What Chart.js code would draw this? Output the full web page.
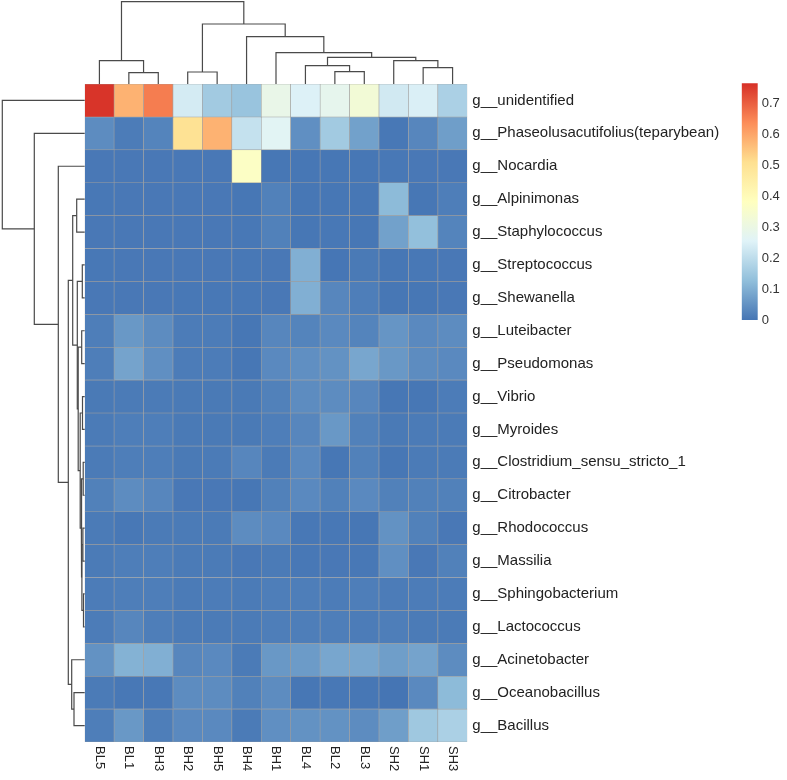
<!DOCTYPE html>
<html>
<head>
<meta charset="utf-8">
<script src="https://cdn.jsdelivr.net/npm/chart.js"></script>
<style>
  body { margin: 0; background: #fff; }
  #wrap { position: relative; width: 787px; height: 780px; overflow: hidden; }
  canvas { position: absolute; }
</style>
</head>
<body>
<div id="wrap">
  <canvas id="heat" width="787" height="780" style="left:0;top:0"></canvas>
  <canvas id="colTree" width="384" height="86" style="left:84px;top:0"></canvas>
  <canvas id="rowTree" width="87" height="662" style="left:0;top:82px"></canvas>
  <canvas id="legend" width="47" height="262" style="left:740px;top:70px"></canvas>
</div>
<script>
// ---------------- data ----------------
const sampleLabels = ["BL5", "BL1", "BH3", "BH2", "BH5", "BH4", "BH1", "BL4", "BL2", "BL3", "SH2", "SH1", "SH3"];

const genusLabels = [
  "g__unidentified", "g__Phaseolusacutifolius(teparybean)", "g__Nocardia", "g__Alpinimonas",
  "g__Staphylococcus", "g__Streptococcus", "g__Shewanella", "g__Luteibacter", "g__Pseudomonas",
  "g__Vibrio", "g__Myroides", "g__Clostridium_sensu_stricto_1", "g__Citrobacter", "g__Rhodococcus",
  "g__Massilia", "g__Sphingobacterium", "g__Lactococcus", "g__Acinetobacter", "g__Oceanobacillus",
  "g__Bacillus"
];

// relative abundance, one row per genus, columns in sampleLabels order
const abundance = [
  [0.76, 0.58, 0.66, 0.235, 0.155, 0.14, 0.29, 0.25, 0.28, 0.33, 0.23, 0.245, 0.17],
  [0.04, 0.012, 0.025, 0.50, 0.58, 0.21, 0.265, 0.045, 0.155, 0.075, 0.005, 0.03, 0.07],
  [0.006, 0.006, 0.006, 0.006, 0.006, 0.37, 0.004, 0.003, 0.004, 0.004, 0.005, 0.006, 0.006],
  [0.005, 0.006, 0.006, 0.006, 0.006, 0.004, 0.02, 0.004, 0.003, 0.003, 0.12, 0.004, 0.015],
  [0.006, 0.006, 0.006, 0.006, 0.006, 0.005, 0.02, 0.004, 0.005, 0.004, 0.075, 0.13, 0.025],
  [0.005, 0.006, 0.006, 0.006, 0.006, 0.005, 0.006, 0.1, 0.002, 0.008, 0.004, 0.005, 0.006],
  [0.006, 0.006, 0.006, 0.005, 0.005, 0.005, 0.006, 0.1, 0.03, 0.015, 0.003, 0.004, 0.006],
  [0.015, 0.06, 0.04, 0.012, 0.012, 0.004, 0.03, 0.025, 0.035, 0.025, 0.055, 0.035, 0.04],
  [0.015, 0.08, 0.045, 0.012, 0.012, 0.004, 0.035, 0.045, 0.05, 0.085, 0.06, 0.04, 0.035],
  [0.008, 0.01, 0.01, 0.008, 0.008, 0.008, 0.02, 0.04, 0.04, 0.03, 0.004, 0.004, 0.012],
  [0.01, 0.015, 0.015, 0.008, 0.008, 0.008, 0.015, 0.03, 0.06, 0.02, 0.008, 0.01, 0.01],
  [0.01, 0.015, 0.015, 0.008, 0.01, 0.03, 0.01, 0.035, 0.004, 0.02, 0.004, 0.01, 0.01],
  [0.02, 0.04, 0.03, 0.006, 0.006, 0.003, 0.02, 0.035, 0.02, 0.035, 0.02, 0.02, 0.02],
  [0.01, 0.005, 0.01, 0.01, 0.01, 0.04, 0.035, 0.005, 0.005, 0.003, 0.05, 0.02, 0.006],
  [0.01, 0.015, 0.015, 0.01, 0.01, 0.006, 0.01, 0.005, 0.006, 0.005, 0.045, 0.006, 0.02],
  [0.012, 0.015, 0.015, 0.01, 0.012, 0.01, 0.015, 0.015, 0.012, 0.015, 0.012, 0.012, 0.012],
  [0.012, 0.03, 0.015, 0.01, 0.01, 0.01, 0.015, 0.015, 0.015, 0.012, 0.015, 0.01, 0.01],
  [0.05, 0.105, 0.1, 0.03, 0.035, 0.01, 0.06, 0.065, 0.085, 0.085, 0.07, 0.08, 0.04],
  [0.01, 0.005, 0.005, 0.04, 0.04, 0.02, 0.04, 0.003, 0.005, 0.003, 0.0, 0.035, 0.12],
  [0.015, 0.06, 0.015, 0.035, 0.035, 0.01, 0.045, 0.05, 0.05, 0.04, 0.07, 0.15, 0.17]
];

// clustering trees, hclust style: negative = leaf (-(index+1)), positive = earlier merge (1-based)
const colMerge = [[-2, -3], [-1, 1], [-4, -5], [-9, -10], [-8, 4], [-12, -13], [-11, 6], [5, 7], [-7, 8], [-6, 9], [3, 10], [2, 11]];
const colHeight = [11.3, 23.3, 12, 12.3, 18.3, 16.3, 23.3, 26.7, 31.3, 47.3, 60, 82.3];

const rowMerge = [[-6, -7], [-4, -5], [-8, -9], [-10, -11], [-12, -13], [-14, -15], [-16, -17], [6, 7], [5, 8], [4, 9],
  [3, 10], [1, 11], [2, 12], [-19, -20], [-18, 14], [13, 15], [-3, 16], [-2, 17], [-1, 18]];
const rowHeight = [2.4, 8, 3, 2.2, 1.5, 1.8, 1.2, 2.8, 3.5, 4.5, 6.5, 7.4, 12, 10.7, 13, 16.4, 26.4, 50.4, 82.4];

const scaleMax = 0.765;
const paletteStops = ["#4575B4", "#91BFDB", "#E0F3F8", "#FFFFBF", "#FEE090", "#FC8D59", "#D73027"];

// ---------------- helpers ----------------
Chart.defaults.font.family = '"Liberation Sans", Arial, sans-serif';

function hexToRgb(h) {
  return [parseInt(h.slice(1, 3), 16), parseInt(h.slice(3, 5), 16), parseInt(h.slice(5, 7), 16)];
}

function colorFor(v) {
  const t = Math.max(0, Math.min(1, v / scaleMax)) * (paletteStops.length - 1);
  const i = Math.min(Math.floor(t), paletteStops.length - 2);
  const f = t - i;
  const a = hexToRgb(paletteStops[i]), b = hexToRgb(paletteStops[i + 1]);
  const c = a.map((x, k) => Math.round(x + (b[k] - x) * f));
  return `rgb(${c[0]},${c[1]},${c[2]})`;
}

// build U-shaped segments of a dendrogram: [pos, height] pairs
function treeSegments(merge, height) {
  const pos = [], hgt = [], segs = [];
  const node = (k) => (k < 0 ? [-k - 1 + 0.5, 0] : [pos[k - 1], hgt[k - 1]]);
  merge.forEach(([a, b], i) => {
    const [pa, ha] = node(a);
    const [pb, hb] = node(b);
    const h = height[i];
    pos.push((pa + pb) / 2);
    hgt.push(h);
    segs.push([[pa, ha], [pa, h], [pb, h], [pb, hb]]);
  });
  return segs;
}

const lineStyle = {
  showLine: true, borderColor: "#4a4a4a", borderWidth: 1.2, pointRadius: 0,
  clip: false, borderJoinStyle: "miter", borderCapStyle: "butt"
};

// ---------------- heatmap ----------------
const columnLabels = {
  id: "columnLabels",
  afterDraw(chart) {
    const { ctx, scales: { x } } = chart;
    ctx.save();
    ctx.font = '13px "Liberation Sans", Arial, sans-serif';
    ctx.fillStyle = "#222";
    ctx.textAlign = "left";
    ctx.textBaseline = "middle";
    sampleLabels.forEach((s, i) => {
      ctx.save();
      ctx.translate(x.getPixelForValue(i), chart.chartArea.bottom + 4);
      ctx.rotate(Math.PI / 2);
      ctx.fillText(s, 0, 0);
      ctx.restore();
    });
    ctx.restore();
  }
};

new Chart(document.getElementById("heat"), {
  type: "bar",
  data: {
    labels: sampleLabels,
    datasets: genusLabels.map((g, r) => ({
      label: g,
      data: sampleLabels.map(() => [r, r + 1]),
      backgroundColor: abundance[r].map(colorFor),
      borderColor: "#9e9e9e",
      borderWidth: 0.6,
      borderSkipped: false,
      barPercentage: 1,
      categoryPercentage: 1,
      grouped: false
    }))
  },
  options: {
    responsive: false,
    animation: false,
    layout: { padding: { left: 84.7, top: 84, right: 0, bottom: 38 } },
    plugins: { legend: { display: false }, tooltip: { enabled: false } },
    scales: {
      x: { display: false, offset: true },
      y: {
        type: "linear",
        min: 0,
        max: 20,
        reverse: true,
        position: "right",
        grid: { display: false, drawTicks: false },
        border: { display: false },
        afterBuildTicks: (s) => { s.ticks = genusLabels.map((_, i) => ({ value: i + 0.5 })); },
        afterFit: (s) => { s.width = 319.7; },
        ticks: {
          autoSkip: false,
          padding: 5,
          color: "#222",
          font: { size: 15 },
          callback: (v, i) => genusLabels[i]
        }
      }
    }
  },
  plugins: [columnLabels]
});

// ---------------- column dendrogram ----------------
new Chart(document.getElementById("colTree"), {
  type: "scatter",
  data: {
    datasets: treeSegments(colMerge, colHeight).map((seg) => ({
      ...lineStyle,
      data: seg.map(([p, h]) => ({ x: p, y: h }))
    }))
  },
  options: {
    responsive: false,
    animation: false,
    layout: { padding: { left: 0.7, right: 0.7, top: 1.7, bottom: 2 } },
    plugins: { legend: { display: false }, tooltip: { enabled: false } },
    scales: {
      x: { type: "linear", display: false, min: 0, max: sampleLabels.length },
      y: { type: "linear", display: false, min: 0, max: 82.3 }
    }
  }
});

// ---------------- row dendrogram ----------------
new Chart(document.getElementById("rowTree"), {
  type: "scatter",
  data: {
    datasets: treeSegments(rowMerge, rowHeight).map((seg) => ({
      ...lineStyle,
      data: seg.map(([p, h]) => ({ x: h, y: p }))
    }))
  },
  options: {
    responsive: false,
    animation: false,
    layout: { padding: { left: 2.3, right: 2.3, top: 2, bottom: 2 } },
    plugins: { legend: { display: false }, tooltip: { enabled: false } },
    scales: {
      x: { type: "linear", display: false, min: 0, max: 82.4, reverse: true },
      y: { type: "linear", display: false, min: 0, max: genusLabels.length, reverse: true }
    }
  }
});

// ---------------- colour legend ----------------
new Chart(document.getElementById("legend"), {
  type: "bar",
  data: {
    labels: [""],
    datasets: [{
      data: [[0, scaleMax]],
      barPercentage: 1,
      categoryPercentage: 1,
      borderWidth: 0,
      backgroundColor: (c) => {
        const area = c.chart.chartArea;
        if (!area || !isFinite(area.top) || !isFinite(area.bottom)) return paletteStops[0];
        const g = c.chart.ctx.createLinearGradient(0, area.bottom, 0, area.top);
        paletteStops.forEach((col, i) => g.addColorStop(i / (paletteStops.length - 1), col));
        return g;
      }
    }]
  },
  options: {
    responsive: false,
    animation: false,
    layout: { padding: { left: 1.7, right: 0, top: 13.3, bottom: 12 } },
    plugins: { legend: { display: false }, tooltip: { enabled: false } },
    scales: {
      x: { display: false },
      y: {
        min: 0,
        max: scaleMax,
        position: "right",
        grid: { display: false, drawTicks: false },
        border: { display: false },
        afterFit: (s) => { s.width = 29.3; },
        ticks: { stepSize: 0.1, includeBounds: false, padding: 4, color: "#333", font: { size: 13 } }
      }
    }
  }
});
</script>
</body>
</html>
